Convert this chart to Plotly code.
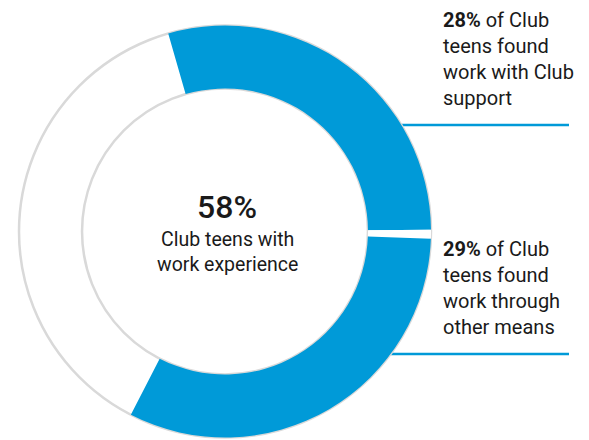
import plotly.graph_objects as go

# Data (share of the ring each arc covers)
slice_names = ["Club support", "gap", "Other means", "No work experience"]
slice_values = [29.3, 0.7, 32.0, 38.0]
slice_colors = ["#009ad8", "#ffffff", "#009ad8", "rgba(0,0,0,0)"]

center_value = "58%"
center_caption = "Club teens with<br>work experience"
label_pcts = ["28%", "29%"]
label_texts = ["of Club<br>teens found<br>work with Club<br>support",
               "of Club<br>teens found<br>work through<br>other means"]

W, H = 589, 440
OFF = 8  # page offset of the figure inside the browser window
cx, cy, R = 225 - OFF, 231.5 - OFF, 206
HOLE = 0.694
FONT = "Roboto"
INK = "#1a1a1a"
BLUE = "#009ad8"

dom_x = [(cx - R) / W, (cx + R) / W]
dom_y = [(H - cy - R) / H, (H - cy + R) / H]

fig = go.Figure()
# base ring with grey outline
fig.add_trace(go.Pie(values=[1], labels=["ring"], hole=HOLE, sort=False,
                     marker=dict(colors=["#ffffff"], line=dict(color="#d9d9d9", width=2.5)),
                     textinfo="none", hoverinfo="skip", showlegend=False,
                     domain=dict(x=dom_x, y=dom_y)))
# blue arcs
fig.add_trace(go.Pie(values=slice_values, labels=slice_names, hole=HOLE, sort=False,
                     direction="clockwise", rotation=-16,
                     marker=dict(colors=slice_colors, line=dict(width=0)),
                     textinfo="none", hoverinfo="skip", showlegend=False,
                     domain=dict(x=dom_x, y=dom_y)))

def px(x):
    return (x - OFF) / W

def py(y):
    return 1 - (y - OFF) / H

# leader lines (behind the ring)
for y0, x0 in [(125, 330), (354, 320)]:
    fig.add_shape(type="line", xref="paper", yref="paper", layer="below",
                  x0=px(x0), x1=px(569), y0=py(y0), y1=py(y0),
                  line=dict(color=BLUE, width=2.5))

fig.add_annotation(xref="paper", yref="paper", x=px(227), y=py(186), xanchor="center", yanchor="top",
                   text=center_value, showarrow=False,
                   font=dict(family=FONT, size=32, color=INK, weight=500))
fig.add_annotation(xref="paper", yref="paper", x=px(227), y=py(226), xanchor="center", yanchor="top",
                   text=center_caption, showarrow=False,
                   font=dict(family=FONT, size=19.5, color=INK))

for (ytop, pct, txt) in zip([6, 235], label_pcts, label_texts):
    fig.add_annotation(xref="paper", yref="paper", x=px(441), y=py(ytop), xanchor="left", yanchor="top",
                       text="<b>" + pct + "</b> " + txt, showarrow=False, align="left",
                       font=dict(family=FONT, size=20, color=INK))

fig.update_layout(width=W, height=H, margin=dict(l=0, r=0, t=0, b=0),
                  paper_bgcolor="white", plot_bgcolor="white")
fig.write_html("out.html")
